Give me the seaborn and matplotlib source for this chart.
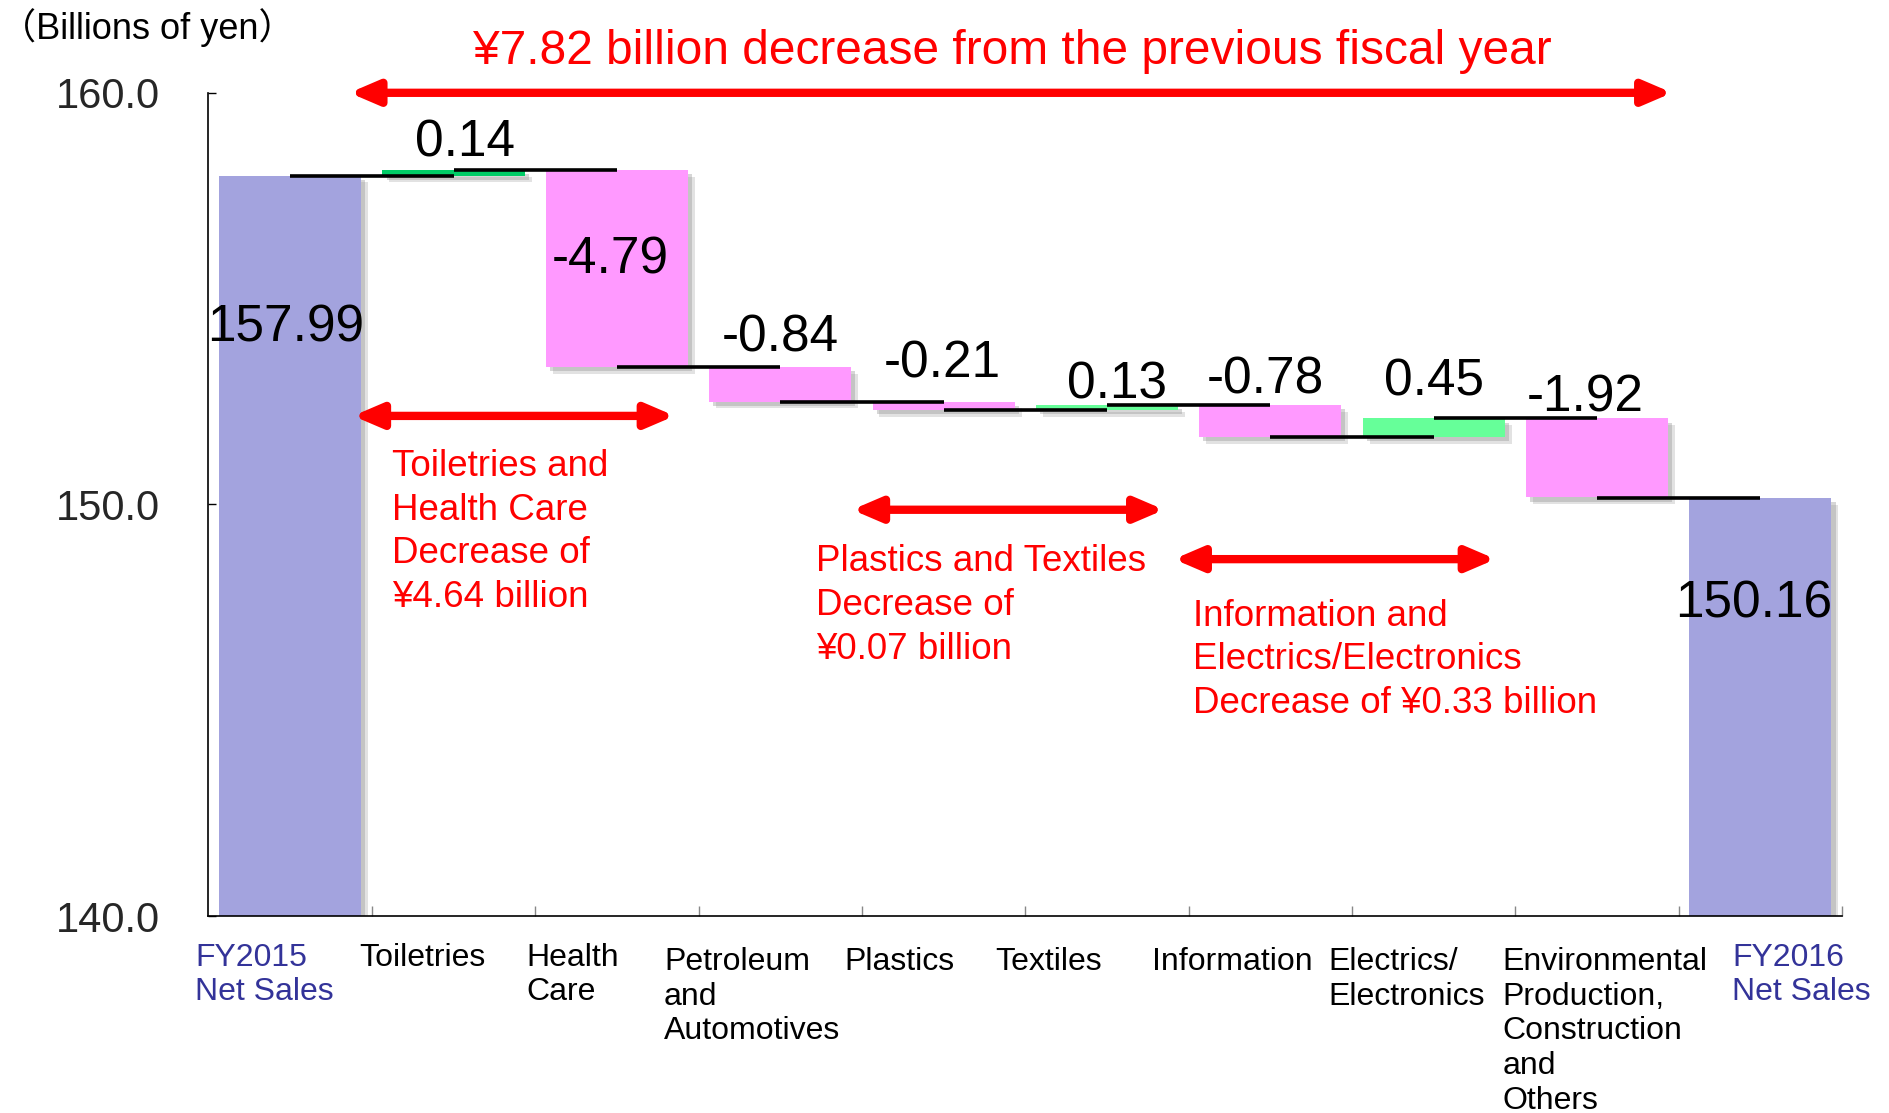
import matplotlib
matplotlib.use("Agg")
import matplotlib.pyplot as plt
import matplotlib.patheffects as pe
import matplotlib.transforms as mtransforms
import numpy as np
import pandas as pd
import seaborn as sns

# ---------------- data ----------------
categories = [
    "FY2015\nNet Sales", "Toiletries", "Health\nCare",
    "Petroleum\nand\nAutomotives", "Plastics", "Textiles", "Information",
    "Electrics/\nElectronics",
    "Environmental\nProduction,\nConstruction\nand\nOthers",
    "FY2016\nNet Sales",
]
start_total = 157.99
changes = [0.14, -4.79, -0.84, -0.21, 0.13, -0.78, 0.45, -1.92]
end_total = 150.16
y_ticks = [140.0, 150.0, 160.0]
title_text = "¥7.82 billion decrease from the previous fiscal year"
unit_text = "（Billions of yen）"
note_texts = [
    "Toiletries and\nHealth Care\nDecrease of\n¥4.64 billion",
    "Plastics and Textiles\nDecrease of\n¥0.07 billion",
    "Information and\nElectrics/Electronics\nDecrease of ¥0.33 billion",
]

# ---------------- styling / layout ----------------
c_total = "#A3A3DE"
c_pos_first = "#00CC66"
c_pos = "#66FF99"
c_neg = "#FF99FF"
label_blue = "#333399"

# value-label placement (x offset from category centre, y in data units)
val_dx = [-0.03, 0.07, -0.04, 0.0, -0.01, 0.06, -0.03, 0.0, -0.07, -0.04]
val_y = [154.29, 158.77, 155.93, 154.05, 153.41, 152.91, 153.03, 152.97, 152.59, 147.58]
# category label placement (left edge in data x, top in figure fraction)
cat_x = [-0.581, 0.422, 1.447, 2.288, 3.394, 4.316, 5.274, 6.358, 7.420, 8.829]
cat_top = [0.153, 0.153, 0.153, 0.149, 0.149, 0.149, 0.149, 0.149, 0.149, 0.153]
# arrows (x0, x1, y) and notes (x, y centre)
arrows = [(0.363, 8.46, 160.0), (0.385, 2.354, 152.15), (3.44, 5.35, 149.87), (5.41, 7.38, 148.67)]
note_pos = [(0.621, 149.33), (3.217, 147.55), (5.525, 146.22)]

sns.set_style("ticks")
plt.rcParams["font.family"] = ["Liberation Sans", "Noto Sans CJK JP", "DejaVu Sans"]

# ---------------- derived waterfall geometry ----------------
levels = start_total + np.cumsum(changes)
prev = np.concatenate([[start_total], levels[:-1]])
floor = y_ticks[0]
bottoms = [floor] + list(np.minimum(prev, levels)) + [floor]
tops = [start_total] + list(np.maximum(prev, levels)) + [end_total]
heights = [t - b for t, b in zip(tops, bottoms)]
colors = [c_total]
for i, ch in enumerate(changes):
    if ch >= 0:
        colors.append(c_pos_first if i == 0 else c_pos)
    else:
        colors.append(c_neg)
colors.append(c_total)
display_vals = [start_total] + changes + [end_total]
line_levels = [start_total] + list(levels)
line_levels[-1] = end_total

df = pd.DataFrame({"category": categories, "height": heights})

fig = plt.figure(figsize=(18.9, 11.13), dpi=100)
ax = fig.add_axes([208.5 / 1890, 197 / 1113, (1842 - 208.5) / 1890, (916 - 92.8) / 1113])

sns.barplot(data=df, x="category", y="height", order=categories, bottom=bottoms,
            width=0.87, errorbar=None, ax=ax, color=c_total, saturation=1, zorder=2)

for p, c in zip(ax.patches, colors):
    p.set_facecolor(c)
    p.set_edgecolor("none")
    p.set_path_effects([
        pe.SimplePatchShadow(offset=(5, -5), shadow_rgbFace=(0.55, 0.55, 0.55), alpha=0.25),
        pe.SimplePatchShadow(offset=(3, -3), shadow_rgbFace=(0.55, 0.55, 0.55), alpha=0.35),
        pe.Normal(),
    ])

# connector lines
for i, lv in enumerate(line_levels):
    ax.plot([i, i + 1], [lv, lv], color="black", lw=2.6, zorder=4, solid_capstyle="butt")

# value labels
for i, v in enumerate(display_vals):
    ax.text(i + val_dx[i], val_y[i], f"{v:.2f}", ha="center", va="center",
            fontsize=37, color="black", zorder=5)

ax.set_xlim(-0.5, 9.5)
ax.set_ylim(y_ticks[0], y_ticks[-1])
ax.set_yticks(y_ticks)
ax.set_yticklabels([f"{t:.1f}" for t in y_ticks], fontsize=30)
ax.set_xticks(np.arange(0.5, 9.6, 1.0))
ax.set_xticklabels([])
ax.set_xlabel("")
ax.set_ylabel("")
ax.tick_params(axis="y", direction="in", length=6, width=1, pad=35, color="black")
ax.tick_params(axis="x", direction="in", length=7, width=1, color="#888888")
for s in ["top", "right"]:
    ax.spines[s].set_visible(False)
for s in ["left", "bottom"]:
    ax.spines[s].set_color("black")
    ax.spines[s].set_linewidth(1.2)

# category labels
trans = mtransforms.blended_transform_factory(ax.transData, fig.transFigure)
for i, lab in enumerate(categories):
    col = label_blue if i in (0, len(categories) - 1) else "black"
    ax.text(cat_x[i], cat_top[i], lab, transform=trans, ha="left", va="top",
            fontsize=23, color=col, linespacing=1.2, clip_on=False)

# arrows
for x0, x1, y in arrows:
    ax.annotate("", xy=(x1, y), xytext=(x0, y), annotation_clip=False,
                arrowprops=dict(arrowstyle="<|-|>,head_length=1.4,head_width=0.6",
                                color="red", lw=6, mutation_scale=12,
                                shrinkA=0, shrinkB=0), zorder=6)

# notes
for (x, y), t in zip(note_pos, note_texts):
    ax.text(x, y, t, ha="left", va="center", color="red", fontsize=26.5,
            linespacing=1.33, zorder=6)

fig.text(1012.5 / 1890, 1 - 52 / 1113, title_text, ha="center", va="center",
         color="red", fontsize=34.5)
fig.text(0.0, 1 - 28 / 1113, unit_text, ha="left", va="center", fontsize=26, color="black")

fig.savefig("out.png", dpi=100)
